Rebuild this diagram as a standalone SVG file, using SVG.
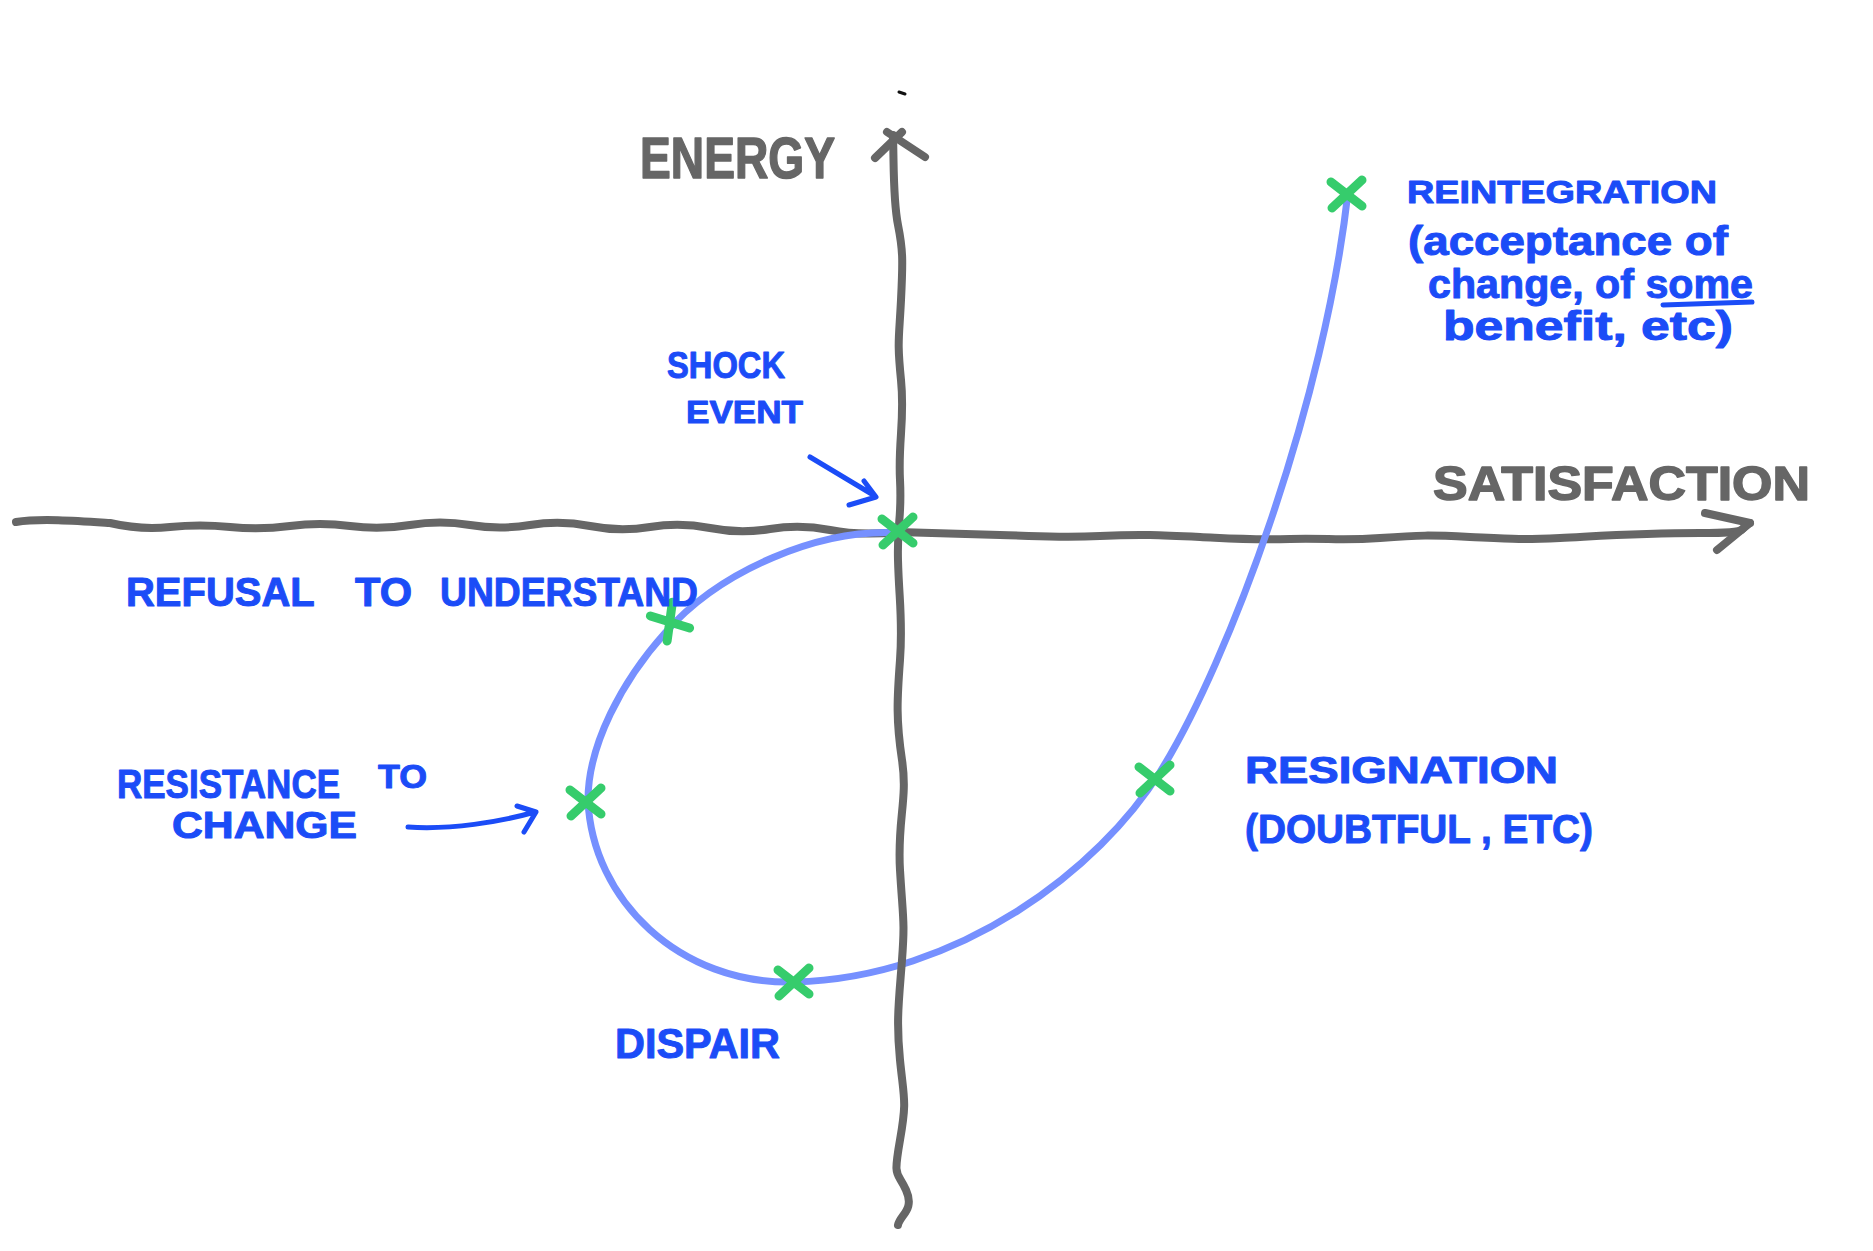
<svg xmlns="http://www.w3.org/2000/svg" width="1873" height="1251" viewBox="0 0 1873 1251">
<style>
.axis{fill:none;stroke:#666;stroke-width:8;stroke-linecap:round;stroke-linejoin:round}
.curve{fill:none;stroke:#7690ff;stroke-width:7;stroke-linecap:round}
.mark{fill:none;stroke:#36cc6c;stroke-width:9;stroke-linecap:round}
.lbl{font-family:"Liberation Sans",Arial,sans-serif;font-weight:bold;fill:#1b4cf7;stroke:#1b4cf7;stroke-width:1;stroke-linejoin:round}
.axlbl{font-family:"Liberation Sans",Arial,sans-serif;font-weight:bold;fill:#666;stroke:#666;stroke-width:1.5;stroke-linejoin:round}
.conn{fill:none;stroke:#1b4cf7;stroke-width:5;stroke-linecap:round;stroke-linejoin:round}
</style>
<defs>
<path id="xm" class="mark" d="M-16,-12 L15,12 M-15,14 L15,-14"/>
</defs>
<rect width="1873" height="1251" fill="#fff"/>
<g id="axes">
<path id="h-axis" class="axis" d="M16 522 C40 518,80 521,110 523 Q140 530,170 527 T230 527 T290 526 T350 526 T410 525 T470 525 T530 525 T590 526 T650 527 T710 528 T770 529 T830 530 T898 532 S960 534,1000 535 S1060 538,1100 536 S1160 535,1200 537 S1250 540,1290 539 S1340 541,1380 538 S1430 535,1470 537 S1520 540,1560 538 S1640 533,1700 533 S1735 528,1750 523"/>
<path class="axis" d="M1705 513 L1750 523 L1717 550"/>
</g>
<path id="change-curve" class="curve" d="M900 533 C820 528,720 570,665 633 C622 681,588 745,588 800 C592 900,680 985,794 982 C960 978,1100 868,1160 772 C1230 660,1325 400,1348 192"/>
<g id="v-axis-group">
<path id="v-axis" class="axis" d="M893 135 C894 170,893 200,898 225 S903 260,901 300 S897 340,901 380 S898 440,900 480 S897 520,898 560 S903 620,900 660 S896 720,902 760 S897 820,900 870 S905 920,902 960 S896 1020,900 1060 S907 1100,900 1140 S897 1170,906 1190 S900 1215,898 1225"/>
<path class="axis" d="M875 158 L902 132 M887 132 L925 157"/>
<path d="M899 92 L905 94" stroke="#111" stroke-width="3" stroke-linecap="round"/>
</g>
<g id="markers">
<use href="#xm" transform="translate(898,531)"/>
<use href="#xm" transform="translate(670,622) rotate(60)"/>
<use href="#xm" transform="translate(586,802)"/>
<use href="#xm" transform="translate(794,982)"/>
<use href="#xm" transform="translate(1155,779)"/>
<use href="#xm" transform="translate(1347,194)"/>
</g>
<g id="connectors">
<path class="conn" d="M810 457 L875 496 M864 481 L876 497 L849 505"/>
<path class="conn" d="M408 827 C450 830,500 822,535 812 M517 806 L536 812 L524 832"/>
</g>
<g id="label-energy"><text class="axlbl" x="640" y="178" font-size="58" textLength="195" lengthAdjust="spacingAndGlyphs">ENERGY</text></g>
<g id="label-satisfaction"><text class="axlbl" x="1433" y="500" font-size="48" textLength="377" lengthAdjust="spacingAndGlyphs">SATISFACTION</text></g>
<g id="node-shock"><text class="lbl" font-size="36"><tspan x="667" y="378" textLength="118" lengthAdjust="spacingAndGlyphs">SHOCK</tspan> <tspan x="686" y="423" font-size="32" textLength="117" lengthAdjust="spacingAndGlyphs">EVENT</tspan></text></g>
<g id="node-refusal"><text class="lbl" font-size="40" y="606"><tspan x="126" textLength="188" lengthAdjust="spacingAndGlyphs">REFUSAL</tspan> <tspan x="355" textLength="57" lengthAdjust="spacingAndGlyphs">TO</tspan> <tspan x="440" textLength="258" lengthAdjust="spacingAndGlyphs">UNDERSTAND</tspan></text></g>
<g id="node-resistance"><text class="lbl" font-size="40"><tspan x="117" y="798" textLength="223" lengthAdjust="spacingAndGlyphs">RESISTANCE</tspan> <tspan x="378" y="788" font-size="34" textLength="49" lengthAdjust="spacingAndGlyphs">TO</tspan> <tspan x="172" y="838" font-size="36" textLength="185" lengthAdjust="spacingAndGlyphs">CHANGE</tspan></text></g>
<g id="node-dispair"><text class="lbl" x="615" y="1058" font-size="42" textLength="165" lengthAdjust="spacingAndGlyphs">DISPAIR</text></g>
<g id="node-resignation"><text class="lbl" font-size="36"><tspan x="1245" y="783" textLength="313" lengthAdjust="spacingAndGlyphs">RESIGNATION</tspan> <tspan x="1245" y="843" font-size="40" textLength="348" lengthAdjust="spacingAndGlyphs">(DOUBTFUL , ETC)</tspan></text></g>
<g id="node-reintegration"><text class="lbl" font-size="40"><tspan x="1407" y="203" font-size="32" textLength="310" lengthAdjust="spacingAndGlyphs">REINTEGRATION</tspan> <tspan x="1408" y="255" textLength="320" lengthAdjust="spacingAndGlyphs">(acceptance of</tspan> <tspan x="1428" y="298" textLength="325" lengthAdjust="spacingAndGlyphs">change, of some</tspan> <tspan x="1443" y="340" textLength="290" lengthAdjust="spacingAndGlyphs">benefit, etc)</tspan></text>
<path class="conn" d="M1663 305 L1752 302"/></g>
</svg>
